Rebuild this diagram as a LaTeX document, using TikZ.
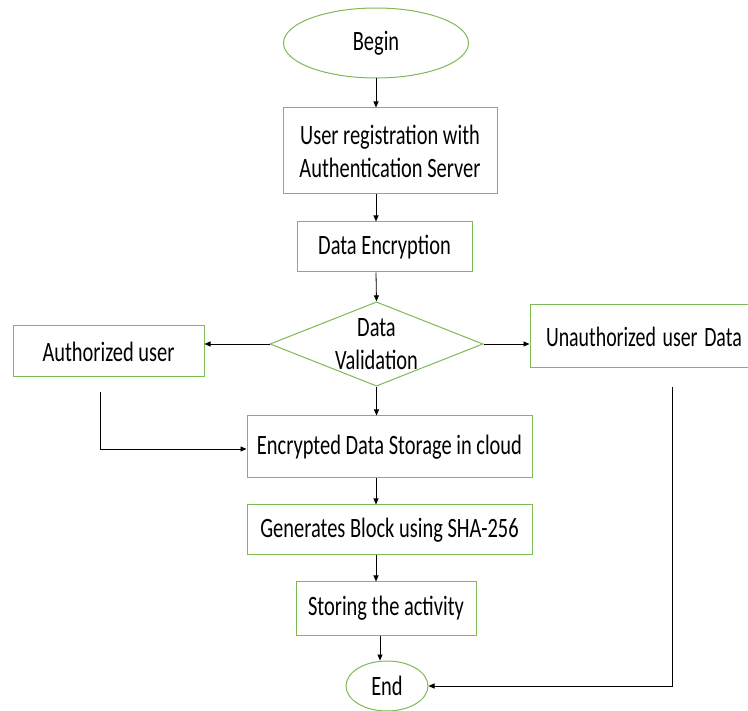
\documentclass[tikz,border=0pt]{standalone}
\usepackage{fontspec}
\usepackage{graphicx}
\setmainfont{Carlito}
\usetikzlibrary{shapes.geometric,arrows.meta}
\definecolor{boxgreen}{RGB}{125,185,85}
\newcommand{\sq}[1]{\scalebox{0.73}[1]{#1}}
\tikzset{
  box/.style={draw=boxgreen, line width=1pt, fill=white, inner sep=0pt, font=\fontsize{28}{33}\selectfont, align=center},
  oval/.style={ellipse, draw=boxgreen, line width=1pt, inner sep=0pt, font=\fontsize{28}{33}\selectfont},
  dia/.style={diamond, draw=boxgreen, line width=1pt, inner sep=0pt, font=\fontsize{28}{33}\selectfont, align=center},
  conn/.style={draw=black, line width=0.8pt, -{Triangle[length=6pt,width=5pt]}},
  plain/.style={draw=black, line width=0.8pt}
}
\begin{document}
\begin{tikzpicture}[x=1pt,y=-1pt]
\useasboundingbox (0,0) rectangle (748,711);
\node[oval, minimum width=185pt, minimum height=70pt] (begin) at (376,43) {\sq{Begin}};
\node[box, minimum width=214pt, minimum height=86pt] (reg) at (390,151) {\sq{User registration with}\\\sq{Authentication Server}};
\node[box, minimum width=175pt, minimum height=50pt] (enc) at (384.5,247) {\sq{Data Encryption}};
\node[dia, minimum width=213pt, minimum height=84pt, aspect=2.5] (val) at (376.5,344) {\sq{Data}\\\sq{Validation}};
\node[box, minimum width=191pt, minimum height=51pt] (auth) at (108.5,351.5) {\sq{Authorized user}};
\node[box, minimum width=224pt, minimum height=63pt, text width=224pt, align=left] (unauth) at (642,336.5) {\hspace*{16pt}\scalebox{0.71}[1]{Unauthorized user Data}};
\node[box, minimum width=285pt, minimum height=62pt] (store) at (389.5,447) {\sq{Encrypted Data Storage in cloud}};
\node[box, minimum width=285pt, minimum height=50pt] (gen) at (389.5,530) {\sq{Generates Block using SHA-256}};
\node[box, minimum width=180pt, minimum height=53pt] (act) at (386,608.5) {\sq{Storing the activity}};
\node[oval, minimum width=82pt, minimum height=50pt] (end) at (387,686) {\sq{End}};
\coordinate (a1) at (100,392);
\coordinate (a2) at (100,449);
\coordinate (u1) at (672,387);
\coordinate (u2) at (672,686);
\draw[conn] (begin.south -| 376,0) -- (reg.north -| 376,0);
\draw[conn] (reg.south -| 376,0) -- (enc.north -| 376,0);
\draw[conn] (enc.south -| 376,0) -- (val.north);
\draw[conn] (val.west) -- (auth.east |- val.west);
\draw[conn] (val.east) -- (unauth.west |- val.east);
\draw[conn] (val.south) -- (store.north -| val.south);
\draw[conn] (store.south -| 376,0) -- (gen.north -| 376,0);
\draw[conn] (gen.south -| 376,0) -- (act.north -| 376,0);
\draw[conn] (act.south -| 380,0) -- (end.north -| 380,0);
\draw[conn] (a1) -- (a2) -- (store.west |- a2);
\draw[conn] (u1) -- (u2) -- (end.east);
\end{tikzpicture}
\end{document}
